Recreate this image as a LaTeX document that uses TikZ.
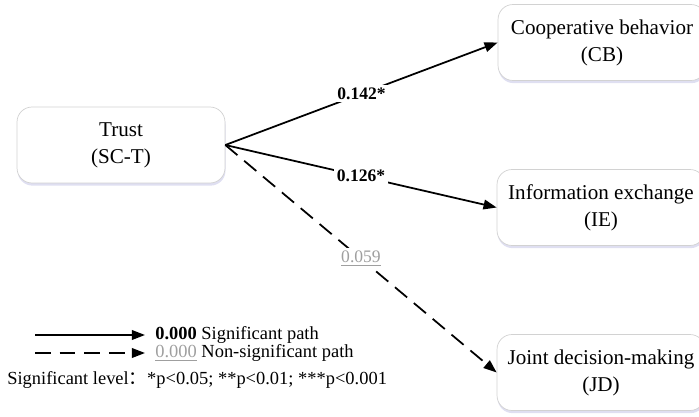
\documentclass[tikz,border=0pt]{standalone}
\usepackage{fontspec}
\setmainfont{Liberation Serif}
\newfontfamily\cjk{Noto Sans CJK SC}
\usetikzlibrary{arrows.meta, shadows}

\tikzset{
  varbox/.style={draw=gray!35, fill=white, rounded corners=0.3cm, minimum width=4.16cm,
    minimum height=1.52cm, align=center, font=\fontsize{12}{15.3}\selectfont,
    drop shadow={shadow xshift=0.3pt, shadow yshift=-1.5pt, fill=blue!40!gray, opacity=0.18}},
  sigpath/.style={line width=1pt, -{Triangle[length=7.5pt, width=5.5pt]}},
  nonsigpath/.style={sigpath, dash pattern=on 9pt off 5pt},
  coef/.style={fill=white, inner sep=1.5pt, font=\fontsize{10}{12}\selectfont},
  legtext/.style={anchor=west, inner sep=0pt, font=\fontsize{10.5}{12}\selectfont}
}

\begin{document}
\begin{tikzpicture}[x=0.02cm, y=-0.02cm]
  \useasboundingbox (0,0) rectangle (699,416);
  % constructs
  \node[varbox] (T)  at (121,145)   {Trust\\(SC-T)};
  \node[varbox] (CB) at (602,42.5)  {Cooperative behavior\\(CB)};
  \node[varbox] (IE) at (601,207.5) {Information exchange\\(IE)};
  \node[varbox] (JD) at (601,372.5) {Joint decision-making\\(JD)};

  % paths
  \draw[sigpath] (T.east) -- node[coef] {\textbf{0.142*}} (CB.west);
  \draw[sigpath] (T.east) -- node[coef] {\textbf{0.126*}} (IE.west);
  \draw[nonsigpath] (T.east) -- node[coef, text=gray!75] {\underline{0.059}} (JD.west);

  % legend
  \coordinate (s1) at (35,335);
  \coordinate (s2) at (145,335);
  \coordinate (n1) at (35,353);
  \coordinate (n2) at (145,353);
  \draw[sigpath] (s1) -- (s2);
  \draw[nonsigpath] (n1) -- (n2);
  \node[legtext] (sl) at (155,335) {\textbf{0.000} Significant path};
  \node[legtext] (nl) at (155,353) {\textcolor{gray!75}{\underline{0.000}} Non-significant path};
  \node[legtext] (lv) at (7,380) {Significant level{\cjk ：}*p<0.05; **p<0.01; ***p<0.001};
\end{tikzpicture}
\end{document}
